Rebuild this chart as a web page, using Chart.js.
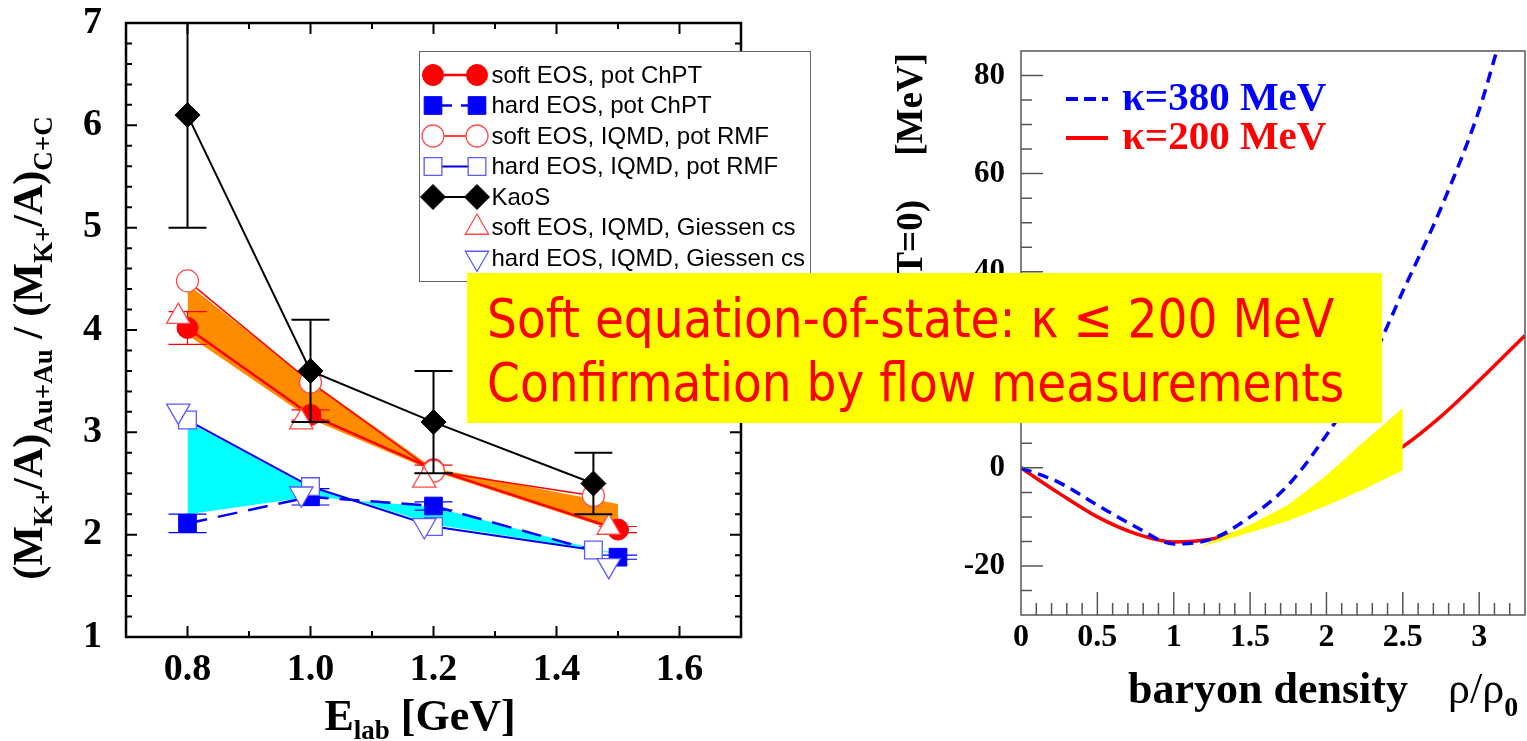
<!DOCTYPE html>
<html>
<head>
<meta charset="utf-8">
<title>K+ ratio and nuclear EOS</title>
<script src="https://cdn.jsdelivr.net/npm/chart.js@4/dist/chart.umd.min.js"></script>
<style>
  body { margin: 0; background: #fff; }
  #page { position: relative; width: 1527px; height: 741px; overflow: hidden; }
  #kaonBox { position: absolute; left: 0; top: 0; width: 860px; height: 741px; }
  #eosBox { position: absolute; left: 860px; top: 0; width: 667px; height: 741px; }
  #note {
    position: absolute; left: 467px; top: 273px; width: 915px; height: 150px;
    box-sizing: border-box; padding: 14px 0 0 20px; background: #ffff00;
    font-family: "DejaVu Sans", sans-serif; font-size: 54px; line-height: 64px; color: #ff0000;
  }
  #note div { white-space: nowrap; transform: scaleX(0.872); transform-origin: 0 0; }
</style>
</head>
<body>
<div id="page">
  <div id="kaonBox"><canvas id="kaonChart"></canvas></div>
  <div id="eosBox"><canvas id="eosChart"></canvas></div>
  <div id="note">
    <div>Soft equation-of-state: κ ≤ 200 MeV</div>
    <div>Confirmation by flow measurements</div>
  </div>
</div>
<script>
// left panel: K+ multiplicity ratio (Au+Au)/(C+C) vs beam energy
const eTicks = [0.8, 1.0, 1.2, 1.4, 1.6];
const ratioTicks = [1, 2, 3, 4, 5, 6, 7];

const kaosE = [0.8, 1.0, 1.2, 1.46];
const kaosRatio = [6.1, 3.6, 3.1, 2.5];
const kaosErr = [1.1, 0.5, 0.5, 0.3];

const chptE = [0.8, 1.0, 1.2, 1.5];
const softChpt = [4.02, 3.17, 2.64, 2.05];
const softChptErr = [0.16, 0.05, 0.04, 0.03];
const hardChpt = [2.11, 2.37, 2.28, 1.78];
const hardChptErr = [0.09, 0.08, 0.04, 0.02];

const rmfE = [0.8, 1.0, 1.2, 1.46];
const softRmf = [4.48, 3.49, 2.62, 2.38];
const hardRmf = [3.12, 2.47, 2.08, 1.85];

const giessenE = [0.785, 0.985, 1.185, 1.485];
const softGiessen = [4.13, 3.1, 2.53, 2.07];
const hardGiessen = [3.21, 2.4, 2.09, 1.7];

const bandE = [0.8, 1.0, 1.2, 1.5];
const softBandTop = [4.45, 3.5, 2.65, 2.3];
const softBandBottom = [3.95, 3.13, 2.62, 2.03];
const hardBandTop = [3.1, 2.48, 2.1, 1.82];
const hardBandBottom = [2.2, 2.37, 2.27, 1.8];

// right panel: E/A(rho, T=0) for two compressibilities
const rhoTicks = [0, 0.5, 1, 1.5, 2, 2.5, 3];
const energyTicks = [-20, 0, 20, 40, 60, 80];
const rhoHard = [0, 0.25, 0.5, 0.75, 1, 1.25, 1.5, 1.75, 2, 2.25, 2.5, 2.75, 3, 3.11];
const eosHard = [0, -3, -7.6, -12, -15.5, -14.5, -10, -3.5, 6.7, 19, 36, 53, 73, 84.5];
const rhoSoft = [0, 0.25, 0.5, 0.75, 1, 1.25, 1.5, 1.75, 2, 2.25, 2.5, 2.75, 3, 3.3];
const eosSoft = [0, -5.2, -10, -13.4, -15.1, -14.5, -12.5, -9, -5, -0.5, 4.3, 10.5, 17.8, 27];
const flowRho = [1.2, 1.5, 1.75, 2, 2.25, 2.5];
const flowTop = [-15.7, -11.6, -7.5, -1.5, 5.5, 12.2];
const flowBottom = [-15.9, -13.2, -10.8, -7.7, -4.3, -0.5];

const pts = (xs, ys) => xs.map((x, i) => ({ x: x, y: ys[i] }));
const serifB = s => `bold ${s}px "Liberation Serif", "Times New Roman", serif`;
const serif = s => `${s}px "Liberation Serif", "Times New Roman", serif`;

// text made of pieces (for subscripts), optionally rotated
function drawRich(ctx, parts, x, y, angle, align) {
  ctx.save();
  ctx.translate(x, y);
  ctx.rotate(angle);
  ctx.textBaseline = 'alphabetic';
  ctx.textAlign = 'left';
  let w = 0;
  parts.forEach(p => { ctx.font = p.font; w += ctx.measureText(p.text).width; });
  let cx = align === 'center' ? -w / 2 : (align === 'right' ? -w : 0);
  parts.forEach(p => {
    ctx.font = p.font;
    ctx.fillStyle = p.color || '#000';
    ctx.fillText(p.text, cx, p.dy || 0);
    cx += ctx.measureText(p.text).width;
  });
  ctx.restore();
}

// box around the plot with ticks pointing inwards
function drawFrame(chart, f) {
  const { ctx, chartArea: a, scales: { x, y } } = chart;
  const steps = (min, max, step) => {
    const out = [];
    const n = Math.round((max - min) / step);
    for (let i = 1; i < n; i++) out.push(min + i * step);
    return out;
  };
  const isMajor = (v, m) => Math.abs(v / m - Math.round(v / m)) < 1e-6;
  ctx.save();
  ctx.strokeStyle = f.color;
  ctx.lineWidth = f.lineWidth;
  ctx.strokeRect(a.left, a.top, a.width, a.height);
  ctx.lineWidth = f.tickWidth;
  ctx.beginPath();
  steps(x.min, x.max, f.xMinor).forEach(v => {
    const px = x.getPixelForValue(v);
    const len = isMajor(v, f.xMajor) ? f.xMajorLen : f.xMinorLen;
    ctx.moveTo(px, a.bottom); ctx.lineTo(px, a.bottom - len);
    if (f.mirror) { ctx.moveTo(px, a.top); ctx.lineTo(px, a.top + len); }
  });
  steps(y.min, y.max, f.yMinor).forEach(v => {
    const py = y.getPixelForValue(v);
    const len = isMajor(v, f.yMajor) ? f.yMajorLen : f.yMinorLen;
    ctx.moveTo(a.left, py); ctx.lineTo(a.left + len, py);
    if (f.mirror) { ctx.moveTo(a.right, py); ctx.lineTo(a.right - len, py); }
  });
  ctx.stroke();
  ctx.restore();
}

// vertical error bars with caps, drawn just below the markers of their dataset
const errorBars = {
  id: 'errorBars',
  beforeDatasetDraw(chart, args) {
    const ds = chart.data.datasets[args.index];
    if (!ds.errors) return;
    const { ctx, chartArea: a, scales: { y } } = chart;
    ctx.save();
    ctx.beginPath();
    ctx.rect(a.left, a.top, a.width, a.height);
    ctx.clip();
    ctx.strokeStyle = ds.errorColor;
    ctx.lineWidth = ds.errorWidth;
    ctx.beginPath();
    args.meta.data.forEach((pt, i) => {
      const hi = y.getPixelForValue(ds.data[i].y + ds.errors[i]);
      const lo = y.getPixelForValue(ds.data[i].y - ds.errors[i]);
      ctx.moveTo(pt.x, hi); ctx.lineTo(pt.x, lo);
      ctx.moveTo(pt.x - ds.capHalf, hi); ctx.lineTo(pt.x + ds.capHalf, hi);
      ctx.moveTo(pt.x - ds.capHalf, lo); ctx.lineTo(pt.x + ds.capHalf, lo);
    });
    ctx.stroke();
    ctx.restore();
  }
};

const kaonDecor = {
  id: 'kaonDecor',
  afterDraw(chart) {
    const { ctx, chartArea: a } = chart;
    drawFrame(chart, {
      color: '#000', lineWidth: 2.5, tickWidth: 2,
      xMinor: 0.1, xMajor: 0.2, xMajorLen: 11, xMinorLen: 6,
      yMinor: 0.2, yMajor: 1, yMajorLen: 11, yMinorLen: 6, mirror: true
    });

    // axis titles
    drawRich(ctx, [
      { text: 'E', font: serifB(44) },
      { text: 'lab', font: serifB(27), dy: 9 },
      { text: ' [GeV]', font: serifB(44) }
    ], a.left + 294, a.bottom + 93, 0, 'center');
    drawRich(ctx, [
      { text: '(M', font: serifB(42) },
      { text: 'K+', font: serifB(27), dy: 10 },
      { text: '/A)', font: serifB(42) },
      { text: 'Au+Au', font: serifB(27), dy: 10 },
      { text: ' / (M', font: serifB(42) },
      { text: 'K+', font: serifB(27), dy: 10 },
      { text: '/A)', font: serifB(42) },
      { text: 'C+C', font: serifB(27), dy: 10 }
    ], a.left - 84, a.top + 325, -Math.PI / 2, 'center');

    // legend box
    const bx = a.left + 293.5, by = a.top + 28.5;
    ctx.save();
    ctx.fillStyle = '#fff';
    ctx.strokeStyle = '#666';
    ctx.lineWidth = 1;
    ctx.fillRect(bx, by, 391, 230);
    ctx.strokeRect(bx, by, 391, 230);
    chart.data.datasets.forEach(ds => {
      if (ds.legendRow === undefined) return;
      const ry = by + 23.5 + ds.legendRow * 30.5;
      const x1 = bx + 13.5, x2 = bx + 57.5;
      if (ds.showLine !== false) {
        ctx.save();
        ctx.strokeStyle = ds.borderColor;
        ctx.lineWidth = ds.borderWidth;
        ctx.setLineDash(ds.legendDash || []);
        ctx.beginPath();
        ctx.moveTo(x1 + 8, ry); ctx.lineTo(x2 - 8, ry);
        ctx.stroke();
        ctx.restore();
      }
      const marks = ds.showLine !== false ? [x1, x2] : [x2];
      marks.forEach(mx => {
        ctx.fillStyle = ds.pointBackgroundColor;
        ctx.strokeStyle = ds.pointBorderColor;
        ctx.lineWidth = ds.pointBorderWidth;
        Chart.helpers.drawPoint(ctx, {
          pointStyle: ds.pointStyle, rotation: ds.pointRotation || 0,
          radius: ds.pointRadius, borderWidth: ds.pointBorderWidth
        }, mx, ry);
      });
      ctx.fillStyle = '#000';
      ctx.font = '24px "Liberation Sans", Arial, sans-serif';
      ctx.textBaseline = 'middle';
      ctx.textAlign = 'left';
      ctx.fillText(ds.label, bx + 72, ry + 1);
    });
    ctx.restore();
  }
};

const eosDecor = {
  id: 'eosDecor',
  afterDraw(chart) {
    const { ctx, chartArea: a } = chart;
    drawFrame(chart, {
      color: '#555', lineWidth: 1.5, tickWidth: 1.5,
      xMinor: 0.1, xMajor: 0.5, xMajorLen: 23, xMinorLen: 12,
      yMinor: 5, yMajor: 20, yMajorLen: 22, yMinorLen: 11, mirror: false
    });

    drawRich(ctx, [{ text: 'baryon density', font: serifB(44) }], a.left + 107, a.bottom + 88, 0, 'left');
    drawRich(ctx, [
      { text: 'ρ/ρ', font: serif(44) },
      { text: '0', font: serifB(28), dy: 13 }
    ], a.left + 427, a.bottom + 88, 0, 'left');
    drawRich(ctx, [{ text: '[MeV]', font: serifB(37) }], a.left - 99, a.top + 2, -Math.PI / 2, 'right');
    drawRich(ctx, [{ text: 'E/A(ρ,T=0)', font: serifB(37) }], a.left - 99, a.top + 149, -Math.PI / 2, 'right');

    // legend
    ctx.save();
    chart.data.datasets.forEach(ds => {
      if (ds.legendRow === undefined) return;
      const ry = a.top + 48 + ds.legendRow * 39;
      ctx.strokeStyle = ds.borderColor;
      ctx.lineWidth = ds.borderWidth + 0.5;
      ctx.setLineDash(ds.legendDash || []);
      ctx.beginPath();
      ctx.moveTo(a.left + 45, ry); ctx.lineTo(a.left + 87, ry);
      ctx.stroke();
      ctx.setLineDash([]);
      ctx.fillStyle = ds.borderColor;
      ctx.font = serifB(41);
      ctx.textBaseline = 'alphabetic';
      ctx.fillText(ds.label, a.left + 101, ry + 11);
    });
    ctx.restore();
  }
};

const band = (xs, ys, fill, color) => ({
  data: pts(xs, ys), fill: fill, backgroundColor: color,
  borderColor: 'rgba(0,0,0,0)', borderWidth: 0, pointRadius: 0, tension: 0
});

new Chart(document.getElementById('kaonChart'), {
  type: 'line',
  data: {
    datasets: [
      {
        label: 'KaoS', data: pts(kaosE, kaosRatio), legendRow: 4,
        borderColor: '#000', borderWidth: 2,
        pointStyle: 'rectRot', pointRadius: 12.5, pointBackgroundColor: '#000',
        pointBorderColor: '#000', pointBorderWidth: 1,
        errors: kaosErr, errorColor: '#000', errorWidth: 2, capHalf: 19
      },
      {
        label: 'hard EOS, IQMD, Giessen cs', data: pts(giessenE, hardGiessen), legendRow: 6,
        showLine: false, pointStyle: 'triangle', pointRotation: 180, pointRadius: 13.5,
        pointBackgroundColor: '#fff', pointBorderColor: '#5a5aff', pointBorderWidth: 1.3
      },
      {
        label: 'soft EOS, IQMD, Giessen cs', data: pts(giessenE, softGiessen), legendRow: 5,
        showLine: false, pointStyle: 'triangle', pointRadius: 13.5,
        pointBackgroundColor: '#fff', pointBorderColor: '#ff4a4a', pointBorderWidth: 1.3
      },
      {
        label: 'hard EOS, IQMD, pot RMF', data: pts(rmfE, hardRmf), legendRow: 3,
        borderColor: '#0000ee', borderWidth: 2,
        pointStyle: 'rect', pointRadius: 12.5, pointBackgroundColor: '#fff',
        pointBorderColor: '#5a5aff', pointBorderWidth: 1.3
      },
      {
        label: 'soft EOS, IQMD, pot RMF', data: pts(rmfE, softRmf), legendRow: 2,
        borderColor: '#ff0000', borderWidth: 1.5,
        pointStyle: 'circle', pointRadius: 11, pointBackgroundColor: '#fff',
        pointBorderColor: '#ff5050', pointBorderWidth: 1.3
      },
      {
        label: 'hard EOS, pot ChPT', data: pts(chptE, hardChpt), legendRow: 1,
        borderColor: '#0000ff', borderWidth: 2.5, borderDash: [20, 11], legendDash: [11, 9],
        pointStyle: 'rect', pointRadius: 12.5, pointBackgroundColor: '#0000ff',
        pointBorderColor: '#0000ff', pointBorderWidth: 1,
        errors: hardChptErr, errorColor: '#0000ff', errorWidth: 1.2, capHalf: 19
      },
      {
        label: 'soft EOS, pot ChPT', data: pts(chptE, softChpt), legendRow: 0,
        borderColor: '#ff0000', borderWidth: 2.5,
        pointStyle: 'circle', pointRadius: 10.5, pointBackgroundColor: '#ff0000',
        pointBorderColor: '#ff0000', pointBorderWidth: 1,
        errors: softChptErr, errorColor: '#ff0000', errorWidth: 1.2, capHalf: 19
      },
      band(bandE, softBandTop, '+1', '#ff8c00'),
      band(bandE, softBandBottom, false, '#ff8c00'),
      band(bandE, hardBandTop, '+1', '#00ffff'),
      band(bandE, hardBandBottom, false, '#00ffff')
    ]
  },
  options: {
    responsive: true,
    maintainAspectRatio: false,
    animation: false,
    events: [],
    layout: { padding: { left: 0, top: 23, right: 119, bottom: 0 } },
    plugins: { legend: { display: false }, tooltip: { enabled: false } },
    scales: {
      x: {
        type: 'linear', min: 0.7, max: 1.7,
        grid: { display: false, drawTicks: false }, border: { display: false },
        afterBuildTicks: s => { s.ticks = eTicks.map(v => ({ value: v })); },
        afterFit: s => { s.height = 104; s.paddingLeft = 0; s.paddingRight = 0; },
        ticks: {
          padding: 10, color: '#000', font: { family: 'Liberation Serif', weight: 'bold', size: 38 },
          callback: v => v.toFixed(1)
        }
      },
      y: {
        type: 'linear', min: 1, max: 7,
        grid: { display: false, drawTicks: false }, border: { display: false },
        afterBuildTicks: s => { s.ticks = ratioTicks.map(v => ({ value: v })); },
        // the "7" sits on the top edge; keep its overhang from pushing the plot down
        afterFit: s => { s.width = 126; s.paddingTop = 0; s.paddingBottom = 0; },
        ticks: {
          padding: 24, color: '#000', font: { family: 'Liberation Serif', weight: 'bold', size: 38 },
          callback: v => String(v)
        }
      }
    }
  },
  plugins: [errorBars, kaonDecor]
});

new Chart(document.getElementById('eosChart'), {
  type: 'line',
  data: {
    datasets: [
      {
        label: 'κ=380 MeV', data: pts(rhoHard, eosHard), legendRow: 0,
        borderColor: '#0000ff', borderWidth: 3.5, borderDash: [11, 7], legendDash: [12, 6],
        pointRadius: 0, cubicInterpolationMode: 'monotone'
      },
      band(flowRho, flowTop, '+1', '#ffff00'),
      band(flowRho, flowBottom, false, '#ffff00'),
      {
        label: 'κ=200 MeV', data: pts(rhoSoft, eosSoft), legendRow: 1,
        borderColor: '#ff0000', borderWidth: 3.5,
        pointRadius: 0, cubicInterpolationMode: 'monotone'
      }
    ]
  },
  options: {
    responsive: true,
    maintainAspectRatio: false,
    animation: false,
    events: [],
    layout: { padding: { left: 0, top: 51, right: 2, bottom: 0 } },
    plugins: { legend: { display: false }, tooltip: { enabled: false } },
    scales: {
      x: {
        type: 'linear', min: 0, max: 3.3,
        grid: { display: false, drawTicks: false }, border: { display: false },
        afterBuildTicks: s => { s.ticks = rhoTicks.map(v => ({ value: v })); },
        afterFit: s => { s.height = 126; s.paddingLeft = 0; s.paddingRight = 0; },
        ticks: {
          padding: 4, color: '#000', font: { family: 'Liberation Serif', weight: 'bold', size: 32 },
          callback: v => String(v)
        }
      },
      y: {
        type: 'linear', min: -30, max: 85,
        grid: { display: false, drawTicks: false }, border: { display: false },
        afterBuildTicks: s => { s.ticks = energyTicks.map(v => ({ value: v })); },
        afterFit: s => { s.width = 161; s.paddingTop = 0; s.paddingBottom = 0; },
        ticks: {
          padding: 16, color: '#000', font: { family: 'Liberation Serif', weight: 'bold', size: 31 },
          callback: v => String(v)
        }
      }
    }
  },
  plugins: [eosDecor]
});
</script>
</body>
</html>
